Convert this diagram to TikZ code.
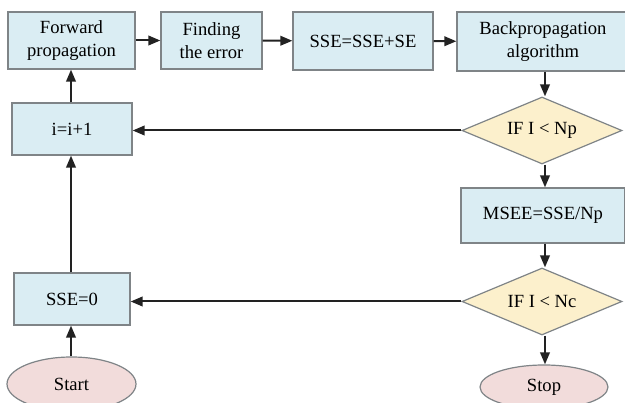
\documentclass[tikz,border=0pt]{standalone}
\usepackage{fontspec}
\setmainfont{Liberation Serif}
\usetikzlibrary{shapes.geometric,arrows.meta}
\definecolor{boxfill}{HTML}{DAEDF3}
\definecolor{diafill}{HTML}{FCF0CC}
\definecolor{ellfill}{HTML}{F2DCDB}
\definecolor{edge}{HTML}{7F8487}
\definecolor{conn}{HTML}{222222}
\tikzset{
  box/.style={draw=edge, line width=1.2pt, fill=boxfill, rectangle, align=center, inner sep=0pt, font=\fontsize{18.6}{23}\selectfont},
  decide/.style={draw=edge, line width=1.2pt, fill=diafill, diamond, aspect=2.4, inner sep=0pt, font=\fontsize{18.6}{23}\selectfont},
  term/.style={draw=edge, line width=1.2pt, fill=ellfill, ellipse, inner sep=0pt, font=\fontsize{18.6}{23}\selectfont},
  arr/.style={draw=conn, line width=2pt, -{Triangle[length=12pt,width=9.5pt]}}
}
\begin{document}
\begin{tikzpicture}[x=1pt,y=-1pt]
\useasboundingbox (0,0) rectangle (625,403);
\node[box, minimum width=127pt, minimum height=57pt] (fwd) at (71.5,40.5) {Forward\\propagation};
\node[box, minimum width=101pt, minimum height=57pt] (find) at (211.5,40.5) {Finding\\the error};
\node[box, minimum width=140pt, minimum height=58pt] (sse) at (363,41) {SSE=SSE+SE};
\node[box, minimum width=172pt, minimum height=59pt] (bp) at (543,41.5) {Backpropagation\\algorithm};
\node[box, minimum width=120pt, minimum height=52pt] (inc) at (72,129) {i=i+1};
\node[decide, minimum width=160pt, minimum height=67pt] (ifnp) at (542,130.5) {IF I < Np};
\node[box, minimum width=164pt, minimum height=55pt] (msee) at (543,215.5) {MSEE=SSE/Np};
\node[decide, minimum width=160pt, minimum height=67pt] (ifnc) at (542,301.5) {IF I < Nc};
\node[box, minimum width=116pt, minimum height=52pt] (sse0) at (72,299) {SSE=0};
\node[term, minimum width=129pt, minimum height=54pt] (start) at (71.5,384) {Start};
\node[term, minimum width=128pt, minimum height=44pt] (stop) at (544,387) {Stop};

\draw[arr] (start.north -| 71,0) -- (sse0.south -| 71,0);
\draw[arr] (sse0.north -| 71,0) -- (inc.south -| 71,0);
\draw[arr] (inc.north -| 71,0) -- (fwd.south -| 71,0);
\draw[arr] (fwd) -- (find);
\draw[arr] (find) -- (sse);
\draw[arr] (sse) -- (bp);
\draw[arr] (bp.south -| 545,0) -- (ifnp.north -| 545,0);
\draw[arr] (ifnp.west) -- (inc.east |- ifnp.west);
\draw[arr] (ifnp.south -| 545,0) -- (msee.north -| 545,0);
\draw[arr] (msee.south -| 545,0) -- (ifnc.north -| 545,0);
\draw[arr] (ifnc.west) -- (sse0.east |- ifnc.west);
\draw[arr] (ifnc.south -| 545,0) -- (stop.north -| 545,0);
\end{tikzpicture}
\end{document}
